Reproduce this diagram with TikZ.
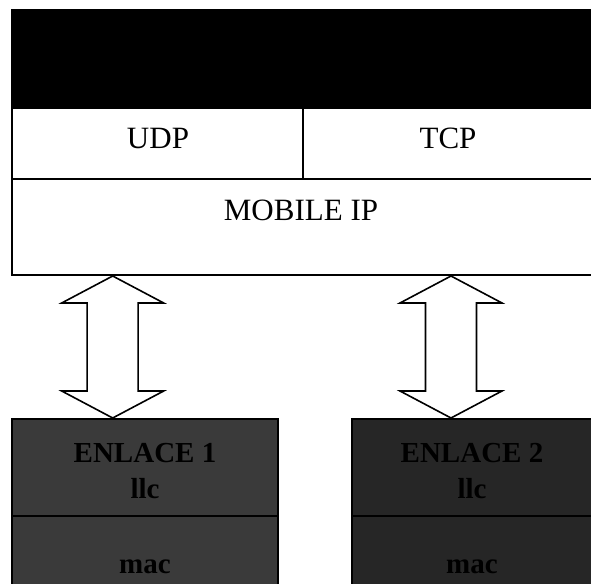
\documentclass[tikz,border=0pt]{standalone}
\usepackage{fontspec}
\setmainfont{Liberation Serif}
\usetikzlibrary{positioning}
\definecolor{lnka}{HTML}{3A3A3A}
\definecolor{lnkb}{HTML}{262626}
\tikzset{
  frame/.style={draw=black, line width=0.8pt},
  lay/.style={text=black, font=\fontsize{15.5}{18}\selectfont, anchor=base},
  lnklab/.style={text=black, font=\bfseries\fontsize{14.5}{17}\selectfont, anchor=base},
  updown/.style={draw=black, fill=white, line width=0.8pt, line join=miter},
}

\begin{document}
\begin{tikzpicture}[x=0.5pt,y=-0.5pt]
\useasboundingbox (0,0) rectangle (591,584);
\clip (0,0) rectangle (591,584);
% protocol stack
\fill[black] (12,10) rectangle (596,108);
\draw[frame] (12,10) rectangle (596,275);
\draw[frame] (12,108) -- (596,108);
\draw[frame] (12,179) -- (596,179);
\draw[frame] (303,108) -- (303,179);
\node[lay] (udp) at (158,148) {UDP};
\node[lay] (tcp) at (448,148) {TCP};
\node[lay] (mip) at (301,220) {MOBILE IP};

% link layers
\draw[frame, fill=lnka] (12,419) rectangle (278,590);
\draw[frame, fill=lnkb] (352,419) rectangle (596,590);
\draw[black, line width=1.4pt] (12,516) -- (278,516);
\draw[black, line width=1.4pt] (352,516) -- (596,516);
\node[lnklab] (enl1) at (145,462) {ENLACE 1};
\node[lnklab] (llc1) at (145,498) {llc};
\node[lnklab] (mac1) at (145,573) {mac};
\node[lnklab] (enl2) at (472,462) {ENLACE 2};
\node[lnklab] (llc2) at (472,498) {llc};
\node[lnklab] (mac2) at (472,573) {mac};

% double arrows
\foreach \x in {112.7,451}{
  \draw[updown] (\x,276) -- ++(51,27) -- ++(-25.5,0) -- ++(0,88) -- ++(25.5,0)
    -- (\x,418) -- ++(-51,-27) -- ++(25.5,0) -- ++(0,-88) -- ++(-25.5,0) -- cycle;
}
\end{tikzpicture}
\end{document}
